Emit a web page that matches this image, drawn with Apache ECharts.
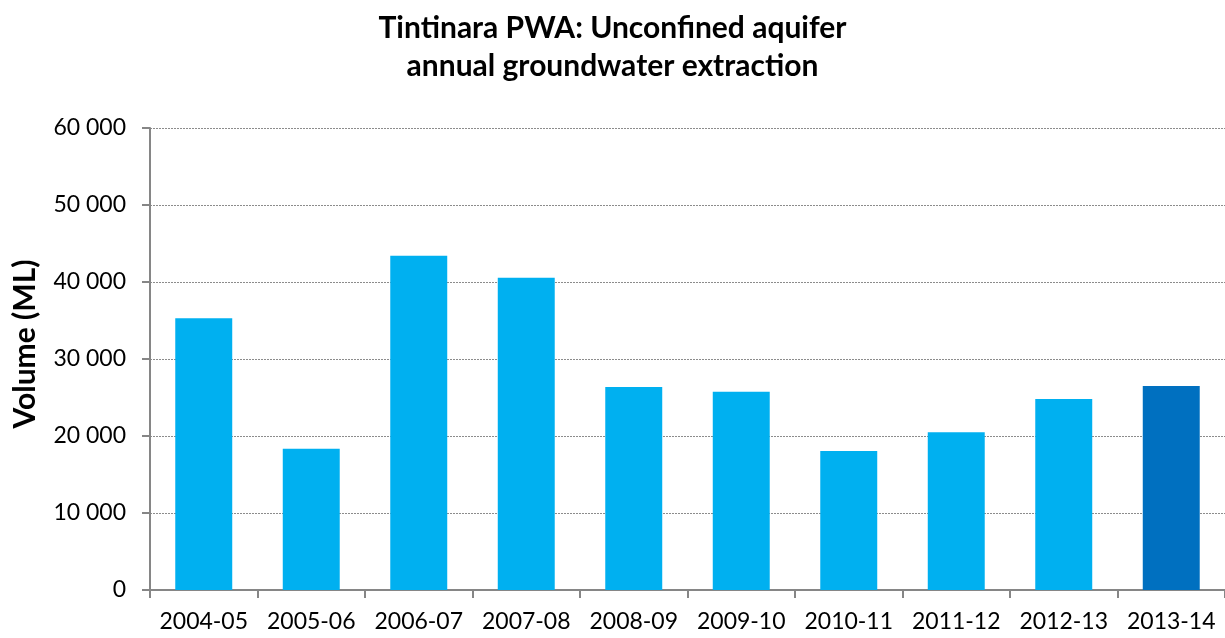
<!DOCTYPE html>
<html>
<head>
    <meta charset="utf-8">
    <title>Tintinara PWA</title>
    <script src="https://cdn.jsdelivr.net/npm/echarts@6/dist/echarts.min.js"></script>
    <style>
        html, body { margin: 0; padding: 0; background: #fff; }
        #main { width: 1225px; height: 638px; }
    </style>
</head>
<body>
    <div id="main"></div>
    <script type="text/javascript">
        // data
        var years = ['2004-05', '2005-06', '2006-07', '2007-08', '2008-09',
                     '2009-10', '2010-11', '2011-12', '2012-13', '2013-14'];
        var volumes = [35300, 18350, 43400, 40550, 26350, 25750, 18050, 20500, 24800, 26500];
        var latestYear = '2013-14';

        var font = 'Lato, "Open Sans", sans-serif';

        var barData = [];
        for (var i = 0; i < years.length; i++) {
            barData.push({
                value: volumes[i],
                itemStyle: { color: years[i] === latestYear ? '#0070c0' : '#00b0f0' }
            });
        }

        var myChart = echarts.init(document.getElementById('main'));
        myChart.setOption({
            animation: false,
            title: {
                left: 'center',
                top: 4,
                text: 'Tintinara PWA: Unconfined aquifer\nannual groundwater extraction',
                textStyle: {
                    fontFamily: font,
                    fontSize: 30,
                    fontWeight: 'bold',
                    lineHeight: 38,
                    color: '#000'
                }
            },
            grid: {
                left: 150,
                right: 0,
                top: 128,
                bottom: 48
            },
            xAxis: {
                type: 'category',
                data: years,
                axisLine: { lineStyle: { color: '#868686', width: 2 } },
                axisTick: { show: true, interval: 0, length: 8, lineStyle: { color: '#868686', width: 2 } },
                axisLabel: {
                    interval: 0,
                    hideOverlap: false,
                    fontFamily: font,
                    fontSize: 23,
                    color: '#000',
                    margin: 20
                }
            },
            yAxis: {
                type: 'value',
                min: 0,
                max: 60000,
                interval: 10000,
                name: 'Volume (ML)',
                nameLocation: 'middle',
                nameGap: 110,
                nameTextStyle: {
                    fontFamily: font,
                    fontSize: 30,
                    fontWeight: 'bold',
                    color: '#000',
                    padding: [0, 0, 0, 30]
                },
                axisLine: { show: true, lineStyle: { color: '#868686', width: 2 } },
                axisTick: { show: true, length: 8, lineStyle: { color: '#868686', width: 2 } },
                axisLabel: {
                    fontFamily: font,
                    fontSize: 23,
                    color: '#000',
                    margin: 24,
                    formatter: function (v) {
                        return String(v).replace(/\B(?=(\d{3})+(?!\d))/g, ' ');
                    }
                },
                splitLine: {
                    lineStyle: { color: '#8c8c8c', type: [2, 1], width: 1 }
                }
            },
            series: [{
                type: 'bar',
                data: barData,
                barWidth: '53%'
            }]
        });
    </script>
</body>
</html>
